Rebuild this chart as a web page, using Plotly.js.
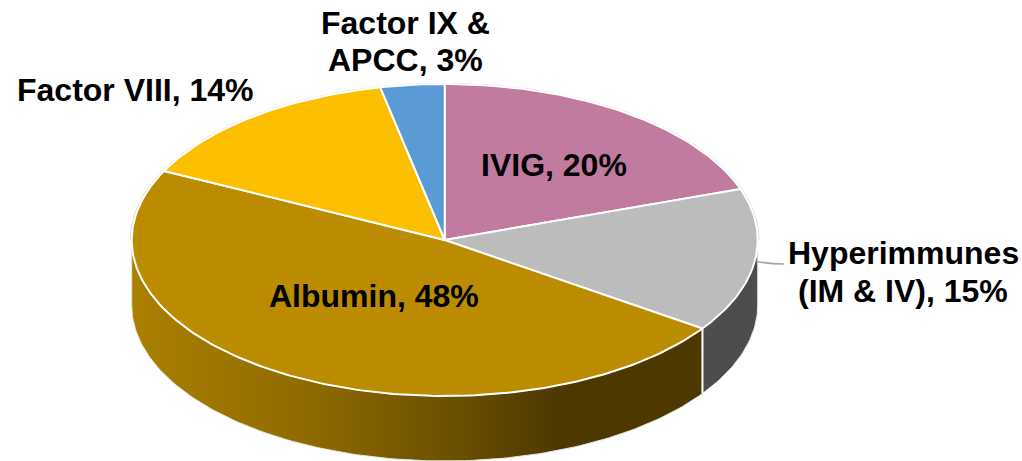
<!DOCTYPE html>
<html>
<head>
<meta charset="utf-8">
<script src="https://cdn.plot.ly/plotly-3.0.1.min.js"></script>
<style>html,body{margin:0;padding:0;background:#fff}#chart{width:1022px;height:461px}</style>
</head>
<body>
<div id="chart"></div>
<script>
// Data, clockwise from 12 o'clock
var categories = ['IVIG', 'Hyperimmunes (IM & IV)', 'Albumin', 'Factor VIII', 'Factor IX & APCC'];
var shares = [19.7, 14.9, 47.7, 14.4, 3.3];
var topColors = ['#c27ba0', '#bcbcbc', '#bc8c00', '#fcbf00', '#5b9bd5'];
var labelLines = [['IVIG'], ['Hyperimmunes', '(IM & IV)'], ['Albumin'], ['Factor VIII'], ['Factor IX &', 'APCC']];
var labelX = [554, 903, 374, 135, 405];
var labelY = [[165], [253, 291], [296], [90], [23, 60]];

// Projection of the tilted disc
var CX = 444.7, CY = 240, RX = 313, RY = 156, DEPTH = 65;
function px(deg, scale) { return CX + (scale || 1) * RX * Math.sin(deg * Math.PI / 180); }
function py(deg, drop, scale) { return CY - (scale || 1) * RY * Math.cos(deg * Math.PI / 180) + (drop || 0); }
function arc(a, b, drop, scale) {
  var n = Math.max(2, Math.ceil(Math.abs(b - a))), xs = [], ys = [];
  for (var i = 0; i <= n; i++) { var t = a + (b - a) * i / n; xs.push(px(t, scale)); ys.push(py(t, drop, scale)); }
  return { x: xs, y: ys };
}

var bounds = [0];
shares.forEach(function (s, i) { bounds.push(bounds[i] + s * 3.6); });

var traces = [];
function sideTrace(a, b, extra) {
  var top = arc(a, b, 0), bot = arc(b, a, DEPTH);
  var t = {
    x: top.x.concat(bot.x, [top.x[0]]), y: top.y.concat(bot.y, [top.y[0]]),
    mode: 'lines', fill: 'toself', hoverinfo: 'skip', showlegend: false,
    line: { color: '#e4e4e4', width: 1 }
  };
  for (var k in extra) t[k] = extra[k];
  return t;
}
// Albumin side, with its shading
traces.push(sideTrace(bounds[2], 270, {
  fillcolor: '#4d3900',
  fillgradient: {
    type: 'horizontal', start: 132, stop: 702,
    colorscale: [[0, '#ab8000'], [0.3, '#8f6b00'], [0.56, '#6b5000'], [0.75, '#4d3900'], [1, '#4d3900']]
  }
}));
// Hyperimmunes side
traces.push(sideTrace(90, bounds[2], { fillcolor: '#4d4d4d' }));
// White seam where the two sides meet
var seam = bounds[2];
traces.push({ x: [px(seam), px(seam)], y: [py(seam), py(seam, DEPTH)], mode: 'lines', hoverinfo: 'skip', showlegend: false, line: { color: '#ffffff', width: 2 } });
// Thin outline behind the rear rim
var rim = arc(-90, 90, 0, 1.004);
traces.push({ x: rim.x, y: rim.y, mode: 'lines', hoverinfo: 'skip', showlegend: false, line: { color: '#d4d4d4', width: 1 } });
// Top slices
categories.forEach(function (c, i) {
  var e = arc(bounds[i], bounds[i + 1], 0);
  traces.push({
    name: c,
    x: [CX].concat(e.x, [CX]), y: [CY].concat(e.y, [CY]),
    mode: 'lines', fill: 'toself', fillcolor: topColors[i], hoverinfo: 'name', showlegend: false,
    line: { color: '#ffffff', width: 2 }
  });
});

var annotations = [];
categories.forEach(function (c, i) {
  labelLines[i].forEach(function (line, j) {
    var last = j === labelLines[i].length - 1;
    annotations.push({
      x: labelX[i], y: labelY[i][j], xref: 'x', yref: 'y',
      text: '<b>' + (last ? line + ', ' + Math.round(shares[i]) + '%' : line).replace('&', '&amp;') + '</b>',
      showarrow: false, xanchor: 'center', yanchor: 'middle', align: 'center',
      font: { family: 'Liberation Sans, Arial, sans-serif', size: 32, color: '#000000' }
    });
  });
});

// Leader line from the Hyperimmunes slice to its label
var mid = (bounds[1] + bounds[2]) / 2;
var leader = {
  type: 'path', xref: 'x', yref: 'y', layer: 'above',
  path: 'M' + px(mid) + ',' + py(mid) + ' Q768,264 784,264',
  line: { color: '#a6a6a6', width: 1.5 }
};

Plotly.newPlot('chart', traces, {
  width: 1022, height: 461,
  margin: { l: 0, r: 0, t: 0, b: 0 },
  paper_bgcolor: '#ffffff', plot_bgcolor: '#ffffff',
  xaxis: { range: [0, 1022], visible: false, fixedrange: true },
  yaxis: { range: [461, 0], visible: false, fixedrange: true },
  annotations: annotations, shapes: [leader], showlegend: false
}, { displayModeBar: false });
</script>
</body>
</html>
